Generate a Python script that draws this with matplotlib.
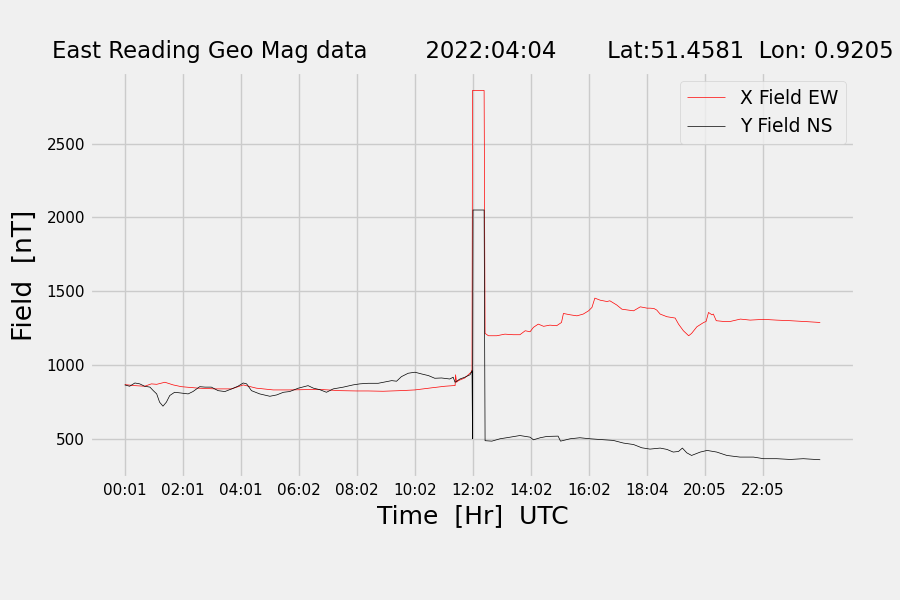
"""
Recreate the East Reading geomagnetic field chart (X / Y components vs time).
"""

import matplotlib
matplotlib.use("Agg")
import matplotlib.pyplot as plt

# ── data (sample index = minutes from start) ─────────────────────────────────
X_IDX = [0, 21, 41, 55, 66, 83, 100, 117, 152, 186, 221, 245, 272, 307, 341,
         375, 410, 445, 479, 503, 534, 569, 600, 634, 662, 679, 683, 684, 686,
         690, 703, 716, 718, 719, 743, 745, 752, 769, 786, 803, 817, 828, 838,
         845, 855, 866, 879, 893, 903, 907, 921, 935, 948, 959, 966, 972, 983,
         997, 1003, 1017, 1028, 1041, 1052, 1066, 1080, 1086, 1094, 1100, 1107,
         1121, 1138, 1145, 1155, 1166, 1172, 1183, 1197, 1202, 1207, 1214, 1217,
         1223, 1238, 1252, 1273, 1293, 1321, 1348, 1376, 1403, 1438]
X_FIELD = [867, 860, 856, 872, 869, 883, 865, 853, 843, 838, 838, 865, 843, 831,
           831, 833, 833, 826, 824, 824, 822, 826, 831, 845, 856, 860, 860, 934,
           883, 894, 912, 951, 968, 2860, 2860, 1214, 1198, 1198, 1209, 1205,
           1205, 1232, 1225, 1255, 1277, 1262, 1270, 1266, 1288, 1349, 1340,
           1333, 1345, 1367, 1390, 1453, 1439, 1430, 1435, 1407, 1378, 1372,
           1367, 1394, 1385, 1385, 1383, 1372, 1345, 1327, 1318, 1277, 1232,
           1198, 1214, 1259, 1288, 1295, 1356, 1340, 1345, 1300, 1295, 1295,
           1311, 1304, 1309, 1304, 1300, 1295, 1288]

Y_IDX = [0, 10, 21, 31, 41, 52, 59, 66, 72, 79, 86, 93, 103, 114, 131, 141, 155,
         166, 179, 193, 207, 221, 234, 245, 252, 262, 279, 300, 314, 328, 341,
         359, 379, 390, 403, 417, 431, 452, 472, 486, 503, 524, 552, 562, 572,
         586, 600, 614, 628, 641, 655, 672, 679, 683, 693, 703, 714, 718, 719,
         720, 743, 745, 759, 776, 797, 817, 838, 845, 859, 873, 896, 901, 921,
         941, 962, 983, 1010, 1031, 1052, 1069, 1086, 1107, 1121, 1134, 1145,
         1153, 1162, 1172, 1190, 1204, 1224, 1245, 1272, 1300, 1321, 1348, 1376,
         1403, 1438]
Y_FIELD = [865, 856, 878, 872, 856, 850, 826, 804, 748, 721, 748, 793, 815, 811,
           804, 820, 853, 850, 850, 826, 820, 838, 856, 878, 872, 826, 804, 788,
           797, 815, 820, 843, 860, 843, 833, 815, 838, 850, 865, 872, 876, 876,
           894, 890, 921, 944, 951, 939, 928, 910, 912, 905, 917, 883, 905, 917,
           934, 961, 500, 2050, 2050, 487, 484, 500, 511, 522, 511, 493, 507,
           516, 518, 484, 500, 507, 500, 495, 489, 471, 461, 439, 430, 437, 428,
           410, 414, 437, 405, 387, 410, 421, 410, 387, 376, 376, 365, 365, 360,
           365, 358]

TICK_POS    = [0, 120, 240, 360, 480, 600, 720, 840, 960, 1080, 1200, 1320]
TICK_LABELS = ["00:01", "02:01", "04:01", "06:02", "08:02", "10:02",
               "12:02", "14:02", "16:02", "18:04", "20:05", "22:05"]

TITLE = ("East Reading Geo Mag data        2022:04:04       "
         "Lat:51.4581  Lon: 0.9205")


def plot_field() -> None:
    plt.style.use("fivethirtyeight")
    fig, ax = plt.subplots(figsize=(9, 6), dpi=100)
    fig.subplots_adjust(left=0.1, right=0.95, bottom=0.203, top=0.88)

    ax.plot(X_IDX, X_FIELD, color="red", linewidth=0.5, label="X Field EW")
    ax.plot(Y_IDX, Y_FIELD, color="black", linewidth=0.5, label="Y Field NS")

    ax.set_xticks(TICK_POS)
    ax.set_xticklabels(TICK_LABELS)
    ax.tick_params(axis="both", labelsize=11)
    ax.set_xlabel("Time  [Hr]  UTC", fontsize=18)
    ax.set_ylabel("Field  [nT]", fontsize=19, labelpad=6)
    ax.set_title(TITLE, fontsize=16.4, pad=10)
    ax.legend(loc="upper right", fontsize=13.5)

    fig.savefig("out.png", dpi=100)


if __name__ == "__main__":
    plot_field()
